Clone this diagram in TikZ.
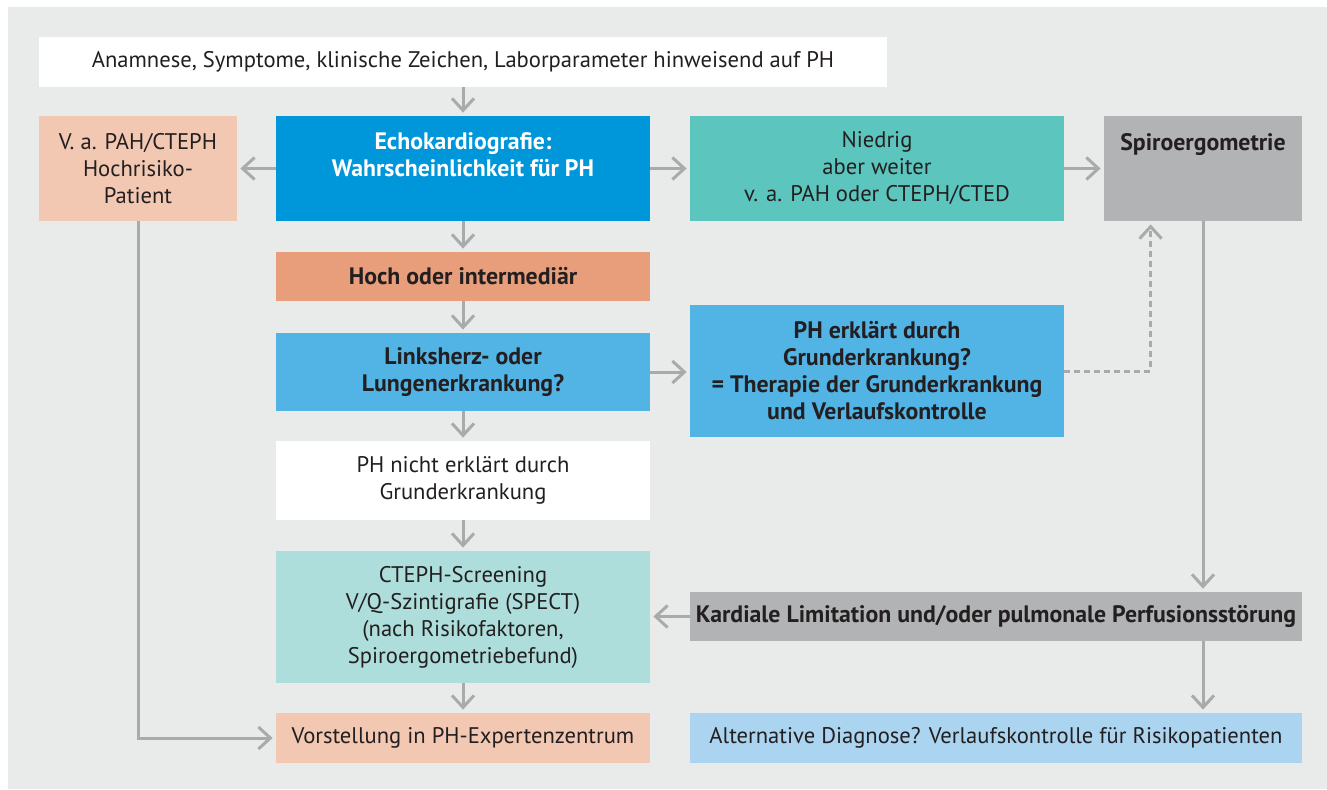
\documentclass[tikz,border=0pt]{standalone}
\usepackage{fontspec}
\setmainfont{PT Sans}
\usetikzlibrary{arrows.meta}

\definecolor{panelgrey}{HTML}{E9EAEA}
\definecolor{textdark}{HTML}{231F20}
\definecolor{arrowgrey}{HTML}{A9AAAC}
\definecolor{peach}{HTML}{F2C8B2}
\definecolor{echoblue}{HTML}{0096DA}
\definecolor{teal}{HTML}{5BC5BE}
\definecolor{spirogrey}{HTML}{B2B3B5}
\definecolor{salmon}{HTML}{E89D7B}
\definecolor{midblue}{HTML}{52B3E5}
\definecolor{paleteal}{HTML}{AEDEDB}
\definecolor{paleblue}{HTML}{ABD4F0}

\begin{document}
\begin{tikzpicture}[x=0.5pt,y=-0.5pt,
flowbox/.style={align=center,inner sep=0pt,text=textdark,
  font=\fontsize{11.3}{13.5}\selectfont},
boldbox/.style={flowbox,font=\fontsize{11.9}{13.5}\selectfont\bfseries},
mainbox/.style={minimum width=187pt},
sidebox/.style={minimum width=99pt},
longbox/.style={minimum width=306pt},
flowarrow/.style={draw=arrowgrey,line width=1.5pt,
  -{Straight Barb[length=6pt,width=11pt]},shorten >=1.5pt},
hintarrow/.style={flowarrow,dash pattern=on 3pt off 2pt}]

\fill[panelgrey] (8,7) rectangle (1327,789);
\useasboundingbox (0,0) rectangle (1327,789);

% first row
\node[flowbox,fill=white,minimum width=424pt,minimum height=25pt] (anamnese) at (463,62)
  {Anamnese, Symptome, klinische Zeichen, Laborparameter hinweisend auf PH};
\node[flowbox,sidebox,fill=peach,minimum height=52.5pt] (verdacht) at (138,168.5)
  {V. a. PAH/CTEPH\\Hochrisiko-\\Patient};
\node[boldbox,mainbox,fill=echoblue,text=white,minimum height=52.5pt] (echo) at (463,168.5)
  {Echokardiografie:\\Wahrscheinlichkeit für PH\\\mbox{}};
\node[flowbox,mainbox,fill=teal,minimum height=52.5pt] (niedrig) at (877,168.5)
  {Niedrig\\aber weiter\\v. a. PAH oder CTEPH/CTED};
\node[boldbox,sidebox,fill=spirogrey,minimum height=52.5pt] (spiro) at (1203,168.5)
  {Spiroergometrie\\\mbox{}\\\mbox{}};

% middle column
\node[boldbox,mainbox,fill=salmon,minimum height=24.5pt] (hoch) at (463,276.5)
  {Hoch oder intermediär};
\node[boldbox,mainbox,fill=midblue,minimum height=39pt] (links) at (463,372)
  {Linksherz- oder\\Lungenerkrankung?};
\node[boldbox,mainbox,fill=midblue,minimum height=66pt] (erklaert) at (877,371)
  {PH erklärt durch\\Grunderkrankung?\\= Therapie der Grunderkrankung\\und Verlaufskontrolle};
\node[flowbox,mainbox,fill=white,minimum height=39.5pt] (nichterklaert) at (463,480.5)
  {PH nicht erklärt durch\\Grunderkrankung};
\node[flowbox,mainbox,fill=paleteal,minimum height=66pt] (screening) at (463,617)
  {CTEPH-Screening\\V/Q-Szintigrafie (SPECT)\\(nach Risikofaktoren,\\Spiroergometriebefund)};
\node[boldbox,longbox,fill=spirogrey,minimum height=24.5pt] (kardial) at (996,616.5)
  {Kardiale Limitation und/oder pulmonale Perfusionsstörung};

% last row
\node[flowbox,mainbox,fill=peach,minimum height=25pt] (vorstellung) at (463,738)
  {Vorstellung in PH-Expertenzentrum};
\node[flowbox,longbox,fill=paleblue,minimum height=25pt] (alternativ) at (996,738)
  {Alternative Diagnose? Verlaufskontrolle für Risikopatienten};

\path (spiro.south west) ++(47,0) coordinate (spiroin);

% connectors
\draw[flowarrow] (anamnese) -- (echo);
\draw[flowarrow] (echo) -- (verdacht);
\draw[flowarrow] (echo) -- (niedrig);
\draw[flowarrow] (niedrig) -- (spiro);
\draw[flowarrow] (echo) -- (hoch);
\draw[flowarrow] (hoch) -- (links);
\draw[flowarrow] (links.east) -- (links.east -| erklaert.west);
\draw[flowarrow] (links) -- (nichterklaert);
\draw[flowarrow] (nichterklaert) -- (screening);
\draw[flowarrow] (screening) -- (vorstellung);
\draw[flowarrow] (verdacht.south) |- (vorstellung.west);
\draw[flowarrow] (spiro.south) -- (spiro.south |- kardial.north);
\draw[flowarrow] (kardial.west) -- (kardial.west -| screening.east);
\draw[flowarrow] (kardial.south -| spiro) -- (alternativ.north -| spiro);
\draw[hintarrow] (erklaert.east) -| (spiroin);

\end{tikzpicture}
\end{document}
